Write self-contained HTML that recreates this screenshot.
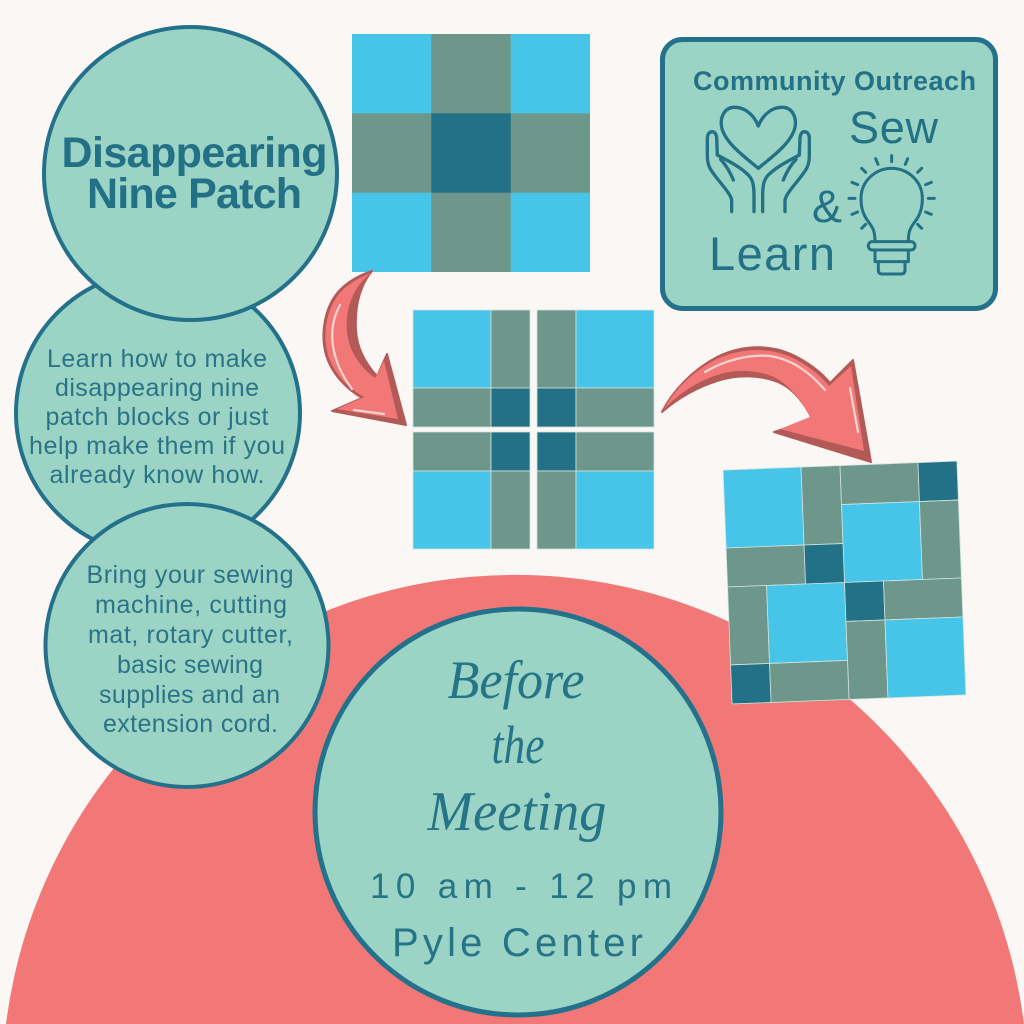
<!DOCTYPE html>
<html><head><meta charset="utf-8"><style>html,body{margin:0;padding:0;background:#fbf7f4;width:1024px;height:1024px;overflow:hidden}svg{display:block}</style></head>
<body>
<svg width="1024" height="1024" viewBox="0 0 1024 1024" xmlns="http://www.w3.org/2000/svg" style="overflow:hidden">
<rect width="1024" height="1024" fill="#fbf7f4"/>
<!-- big red arc -->
<path d="M6,1024 A513,513 0 0 1 1024,1024 Z" fill="#f27878"/>

<!-- left circles -->
<circle cx="158" cy="413" r="142" fill="#9bd3c5" stroke="#23718a" stroke-width="4"/>
<circle cx="190.5" cy="173.5" r="146.5" fill="#9bd3c5" stroke="#23718a" stroke-width="4"/>
<circle cx="187" cy="645.5" r="141.5" fill="#9bd3c5" stroke="#23718a" stroke-width="4"/>

<g font-family="Liberation Sans, sans-serif" fill="#237186" text-anchor="middle">
<text x="194.5" y="167" font-size="43" font-weight="bold" textLength="266" lengthAdjust="spacing">Disappearing</text>
<text x="194.5" y="208" font-size="43" font-weight="bold" textLength="215" lengthAdjust="spacing">Nine Patch</text>
</g>
<g font-family="Liberation Sans, sans-serif" fill="#2b7386" text-anchor="middle" font-size="25">
<text x="157" y="367" textLength="220" lengthAdjust="spacing">Learn how to make</text>
<text x="157" y="396" textLength="204" lengthAdjust="spacing">disappearing nine</text>
<text x="157" y="425" textLength="223" lengthAdjust="spacing">patch blocks or just</text>
<text x="157" y="454" textLength="256" lengthAdjust="spacing">help make them if you</text>
<text x="157" y="483" textLength="215" lengthAdjust="spacing">already know how.</text>

<text x="190" y="583" textLength="207" lengthAdjust="spacing">Bring your sewing</text>
<text x="191" y="613" textLength="192" lengthAdjust="spacing">machine, cutting</text>
<text x="190.5" y="643" textLength="205" lengthAdjust="spacing">mat, rotary cutter,</text>
<text x="190" y="673" textLength="146" lengthAdjust="spacing">basic sewing</text>
<text x="189.5" y="703" textLength="181" lengthAdjust="spacing">supplies and an</text>
<text x="190.5" y="732" textLength="175" lengthAdjust="spacing">extension cord.</text>
</g>

<!-- bottom circle -->
<circle cx="518" cy="812" r="203" fill="#9bd3c5" stroke="#23718a" stroke-width="5"/>
<g fill="#257487" text-anchor="middle">
<text x="516" y="698" font-family="Liberation Serif, serif" font-style="italic" font-size="54" textLength="137" lengthAdjust="spacingAndGlyphs">Before</text>
<text x="518" y="763" font-family="Liberation Serif, serif" font-style="italic" font-size="54" textLength="53" lengthAdjust="spacingAndGlyphs">the</text>
<text x="517" y="830" font-family="Liberation Serif, serif" font-style="italic" font-size="56" textLength="179" lengthAdjust="spacingAndGlyphs">Meeting</text>
<text x="521" y="898" font-family="Liberation Sans, sans-serif" font-size="35" textLength="302" lengthAdjust="spacing">10 am - 12 pm</text>
<text x="517.5" y="956" font-family="Liberation Sans, sans-serif" font-size="40" textLength="251" lengthAdjust="spacing">Pyle Center</text>
</g>

<!-- top nine patch -->
<g>
<rect x="352" y="34" width="80" height="80" fill="#46c5e8"/>
<rect x="431.3" y="34" width="80" height="80" fill="#6d978b"/>
<rect x="510.7" y="34" width="79.3" height="80" fill="#46c5e8"/>
<rect x="352" y="113.3" width="80" height="80" fill="#6d978b"/>
<rect x="431.3" y="113.3" width="80" height="80" fill="#237186"/>
<rect x="510.7" y="113.3" width="79.3" height="80" fill="#6d978b"/>
<rect x="352" y="192.7" width="80" height="79.3" fill="#46c5e8"/>
<rect x="431.3" y="192.7" width="80" height="79.3" fill="#6d978b"/>
<rect x="510.7" y="192.7" width="79.3" height="79.3" fill="#46c5e8"/>
</g>

<!-- community outreach box -->
<rect x="662.5" y="39.5" width="333" height="269" rx="20" fill="#9bd3c5" stroke="#23718a" stroke-width="5"/>
<g font-family="Liberation Sans, sans-serif" fill="#237186">
<text x="693" y="90" font-size="27" font-weight="bold" textLength="283" lengthAdjust="spacing">Community Outreach</text>
<text x="849" y="143" font-size="45" textLength="89" lengthAdjust="spacing">Sew</text>
<text x="812" y="222" font-size="45">&amp;</text>
<text x="709" y="270" font-size="47" textLength="126" lengthAdjust="spacing">Learn</text>
</g>
<!-- hands + heart icon -->
<g transform="translate(700,100) scale(0.3333)" fill="none" stroke="#237186" stroke-width="10" stroke-linecap="round" stroke-linejoin="round">
<path d="M175,78 C160,40 130,20 100,22 C70,25 60,55 65,82 C75,130 140,175 175,205 C210,175 275,130 285,82 C290,55 280,25 250,22 C220,20 190,40 175,78 Z"/>
<g>
<path d="M95,335 L95,300 C90,275 50,240 30,205 C22,190 22,175 22,160 L22,115 C22,100 30,95 37,95 C45,95 50,105 50,115 L52,165"/>
<path d="M62,178 C75,192 90,215 100,240"/>
<path d="M52,165 C80,180 120,200 145,225 C160,240 162,260 162,290 L162,335"/>
</g>
<g transform="translate(350,0) scale(-1,1)">
<path d="M95,335 L95,300 C90,275 50,240 30,205 C22,190 22,175 22,160 L22,115 C22,100 30,95 37,95 C45,95 50,105 50,115 L52,165"/>
<path d="M62,178 C75,192 90,215 100,240"/>
<path d="M52,165 C80,180 120,200 145,225 C160,240 162,260 162,290 L162,335"/>
</g>
</g>
<!-- light bulb -->
<g transform="translate(840,150) scale(0.3333)" fill="none" stroke="#237186" stroke-width="9" stroke-linecap="round" stroke-linejoin="round">
<path d="M105,275 C105,245 100,235 85,215 C70,195 63,175 63,145 C63,95 105,55 155,55 C205,55 247,95 247,145 C247,175 240,195 225,215 C210,235 205,245 205,275"/>
<rect x="85" y="275" width="140" height="25" rx="12"/>
<path d="M105,300 L105,335 L205,335 L205,300"/>
<path d="M115,335 L115,360 Q115,372 127,372 L183,372 Q195,372 195,360 L195,335"/>
<path d="M155,35 L155,17 M196,43 L203,26 M114,43 L107,26 M233,67 L245,55 M77,67 L65,55 M257,104 L274,97 M53,104 L36,97 M265,145 L283,145 M45,145 L27,145 M257,186 L274,193 M53,186 L36,193 M233,223 L245,235 M77,223 L65,235"/>
</g>

<!-- middle split block -->
<g stroke="#cfe3e0" stroke-width="0.8">
<rect x="413" y="310" width="78" height="78" fill="#46c5e8"/>
<rect x="491" y="310" width="39" height="78" fill="#6d978b"/>
<rect x="413" y="388" width="78" height="39" fill="#6d978b"/>
<rect x="491" y="388" width="39" height="39" fill="#237186"/>

<rect x="537" y="310" width="39" height="78" fill="#6d978b"/>
<rect x="576" y="310" width="78" height="78" fill="#46c5e8"/>
<rect x="537" y="388" width="39" height="39" fill="#237186"/>
<rect x="576" y="388" width="78" height="39" fill="#6d978b"/>

<rect x="413" y="432" width="78" height="39" fill="#6d978b"/>
<rect x="491" y="432" width="39" height="39" fill="#237186"/>
<rect x="413" y="471" width="78" height="78" fill="#46c5e8"/>
<rect x="491" y="471" width="39" height="78" fill="#6d978b"/>

<rect x="537" y="432" width="39" height="39" fill="#237186"/>
<rect x="576" y="432" width="78" height="39" fill="#6d978b"/>
<rect x="537" y="471" width="39" height="78" fill="#6d978b"/>
<rect x="576" y="471" width="78" height="78" fill="#46c5e8"/>
</g>

<!-- arrow 1 -->
<path d="M372,271 C360,275 345,282 335,296 C325,310 322,330 324,345 C327,370 345,388 362,398 L332,411 L406,425 L387,354 L377,376 C366,364 357,348 356,330 C355,310 358,288 372,271 Z" fill="#b35a58" stroke="#b35a58" stroke-width="2" stroke-linejoin="round"/>
<path d="M371,273 C358,278 344,286 336,298 C327,312 324,330 326,345 C329,369 346,387 364,397 L337,409 L398,419 L384,361 L375,378 C361,368 349,352 347,332 C345,310 352,288 371,273 Z" fill="#f27878"/>
<path d="M340,305 C329,325 327,355 352,389" fill="none" stroke="#fbd3cf" stroke-width="2.2" stroke-linecap="round"/>
<path d="M354,410 L384,414" fill="none" stroke="#fbd3cf" stroke-width="2.2" stroke-linecap="round"/>

<!-- arrow 2 -->
<path d="M662,412 C672,392 692,370 717,357 C745,343 775,345 797,357 C812,365 822,373 830,383 L853,360 L871,462 L774,432 L813,420 C805,405 795,390 780,383 C760,374 735,375 717,381 C698,387 678,398 662,412 Z" fill="#b35a58" stroke="#b35a58" stroke-width="2" stroke-linejoin="round"/>
<path d="M664,409 C674,390 694,370 717,359 C745,346 775,348 797,360 C811,368 821,376 829,386 L851,366 L864,451 L780,429 L810,417 C802,401 790,386 776,378 C757,369 735,369 717,375 C698,381 678,394 664,409 Z" fill="#f27878"/>
<path d="M705,372 C725,360 750,354 770,356 C795,360 812,375 825,390" fill="none" stroke="#fbd3cf" stroke-width="2.2" stroke-linecap="round"/>
<path d="M850,388 L858,432" fill="none" stroke="#fbd3cf" stroke-width="2.2" stroke-linecap="round"/>

<!-- rotated block -->
<g transform="translate(844.5,582.5) rotate(-2.2) translate(-117,-117)" stroke="#cfe3e0" stroke-width="0.8">
<rect x="0" y="0" width="78" height="78" fill="#46c5e8"/>
<rect x="78" y="0" width="39" height="78" fill="#6d978b"/>
<rect x="117" y="0" width="78" height="39" fill="#6d978b"/>
<rect x="195" y="0" width="39" height="39" fill="#237186"/>
<rect x="117" y="39" width="78" height="78" fill="#46c5e8"/>
<rect x="195" y="39" width="39" height="78" fill="#6d978b"/>
<rect x="0" y="78" width="78" height="39" fill="#6d978b"/>
<rect x="78" y="78" width="39" height="39" fill="#237186"/>
<rect x="0" y="117" width="39" height="78" fill="#6d978b"/>
<rect x="39" y="117" width="78" height="78" fill="#46c5e8"/>
<rect x="117" y="117" width="39" height="39" fill="#237186"/>
<rect x="156" y="117" width="78" height="39" fill="#6d978b"/>
<rect x="117" y="156" width="39" height="78" fill="#6d978b"/>
<rect x="156" y="156" width="78" height="78" fill="#46c5e8"/>
<rect x="0" y="195" width="39" height="39" fill="#237186"/>
<rect x="39" y="195" width="78" height="39" fill="#6d978b"/>
</g>
</svg>
</body></html>
